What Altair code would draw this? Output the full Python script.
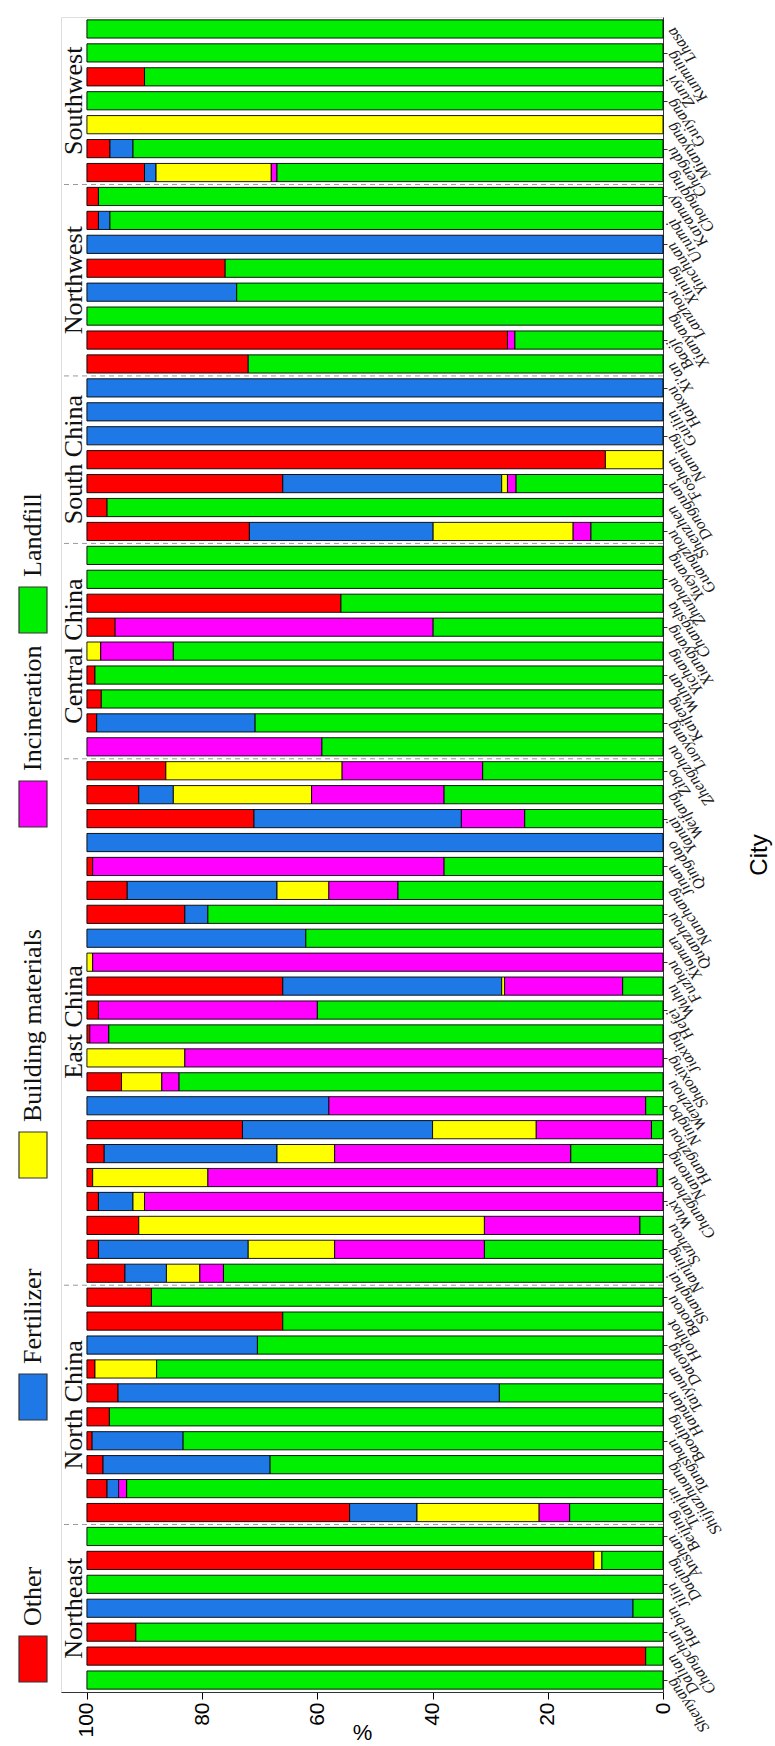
import altair as alt
import pandas as pd

categories = ["Other", "Fertilizer", "Building materials", "Incineration", "Landfill"]
colors = ["#FF0000", "#1E78E6", "#FFFF00", "#FF00FF", "#00EE00"]
stack_rank = [4, 3, 2, 1, 0]  # Landfill sits at 0 %, Other at 100 %

regions = ["Northeast", "North China", "East China", "Central China",
           "South China", "Northwest", "Southwest"]
region_sizes = [7, 10, 22, 9, 7, 8, 7]

# cities in original axis order (first = bottom row)
cities = [
    "Shenyang", "Dalian", "Changchun", "Harbin", "Jilin", "Daqing", "Anshan",
    "Beijing", "Tianjin", "Shijiazhuang", "Tangshan", "Baoding", "Handan",
    "Taiyuan", "Datong", "Hohhot", "Baotou",
    "Shanghai", "Nanjing", "Suzhou", "Wuxi", "Changzhou", "Nantong", "Hangzhou",
    "Ningbo", "Wenzhou", "Shaoxing", "Jiaxing", "Hefei", "Wuhu", "Fuzhou",
    "Xiamen", "Quanzhou", "Nanchang", "Jinan", "Qingdao", "Yantai", "Weifang", "Zibo",
    "Zhengzhou", "Luoyang", "Kaifeng", "Wuhan", "Yichang", "Xiangyang",
    "Changsha", "Zhuzhou", "Yueyang",
    "Guangzhou", "Shenzhen", "Dongguan", "Foshan", "Nanning", "Guilin", "Haikou",
    "Xi'an", "Baoji", "Xianyang", "Lanzhou", "Xining", "Yinchuan", "Urumqi", "Karamay",
    "Chongqing", "Chengdu", "Mianyang", "Guiyang", "Zunyi", "Kunming", "Lhasa",
]

other = [0, 97, 8.5, 0, 0, 88, 0,
         45.6, 3.5, 2.8, 0.9, 3.9, 5.4, 1.4, 0, 34.0, 11.2,
         6.6, 2, 9, 2, 1, 3, 27, 0, 6, 0, 0.5, 2, 34, 0, 0, 17, 7, 1, 0, 29, 9, 13.7,
         0, 1.7, 2.5, 1.4, 0, 4.9, 44.1, 0, 0,
         28.2, 3.5, 34, 90, 0, 0, 0,
         28, 73, 0, 0, 24, 0, 2, 2,
         10, 4, 0, 0, 10, 0, 0]
fertilizer = [0, 0, 0, 94.8, 0, 0, 0,
              11.7, 2.0, 29.0, 15.8, 0, 66.2, 0, 29.6, 0, 0,
              7.2, 26, 0, 6, 0, 30, 33, 42, 0, 0, 0, 0, 38, 0, 38, 4, 26, 0, 100, 36, 6, 0,
              0, 27.5, 0, 0, 0, 0, 0, 0, 0,
              31.9, 0, 38, 0, 100, 100, 100,
              0, 0, 0, 26, 0, 100, 2, 0,
              2, 4, 0, 0, 0, 0, 0]
building = [0, 0, 0, 0, 0, 1.4, 0,
            21.2, 0, 0, 0, 0, 0, 10.7, 0, 0, 0,
            5.8, 15, 60, 2, 20, 10, 18, 0, 7, 17, 0, 0, 0.5, 1, 0, 0, 9, 0, 0, 0, 24, 30.6,
            0, 0, 0, 0, 2.4, 0, 0, 0, 0,
            24.3, 0, 1, 10, 0, 0, 0,
            0, 0, 0, 0, 0, 0, 0, 0,
            20, 0, 100, 0, 0, 0, 0]
incineration = [0, 0, 0, 0, 0, 0, 0,
                5.3, 1.4, 0, 0, 0, 0, 0, 0, 0, 0,
                4.1, 26, 27, 90, 78, 41, 20, 55, 3, 83, 3.3, 38, 20.5, 99, 0, 0, 12, 61, 0, 11, 23, 24.4,
                40.8, 0, 0, 0, 12.6, 55.2, 0, 0, 0,
                3.1, 0, 1.5, 0, 0, 0, 0,
                0, 1.3, 0, 0, 0, 0, 0, 0,
                1, 0, 0, 0, 0, 0, 0]
landfill = [100, 3, 91.5, 5.2, 100, 10.6, 100,
            16.2, 93.1, 68.2, 83.3, 96.1, 28.4, 87.9, 70.4, 66.0, 88.8,
            76.3, 31, 4, 0, 1, 16, 2, 3, 84, 0, 96.2, 60, 7, 0, 62, 79, 46, 38, 0, 24, 38, 31.3,
            59.2, 70.8, 97.5, 98.6, 85.0, 39.9, 55.9, 100, 100,
            12.5, 96.5, 25.5, 0, 0, 0, 0,
            72, 25.7, 100, 74, 76, 0, 96, 98,
            67, 92, 0, 100, 90, 100, 100]

series = [other, fertilizer, building, incineration, landfill]

# ---- layout (pixels) ----
W, H = 602, 1675
XMAX = 104.5
legend_centers = [1642, 1380, 1138, 787, 593]

rows = []
for ci, (cat, vals) in enumerate(zip(categories, series)):
    for i, v in enumerate(vals):
        rows.append({"idx": i + 1, "city": cities[i], "category": cat,
                     "rank": stack_rank[ci], "value": v})
df = pd.DataFrame(rows)
city_df = pd.DataFrame({"idx": list(range(1, len(cities) + 1)), "city": cities})

xscale = alt.Scale(domain=[0, XMAX], reverse=True, nice=False, zero=True)
yscale = alt.Scale(domain=[0.5, len(cities) + 0.5], nice=False, zero=False)

bars = alt.Chart(df).transform_filter("datum.value > 0").transform_stack(
    stack="value", groupby=["idx"], as_=["x0", "x1"],
    sort=[alt.SortField("rank", order="ascending")], offset="zero"
).transform_calculate(lo="datum.idx - 0.38", hi="datum.idx + 0.38").mark_bar(
    stroke="#000000", strokeWidth=0.9
).encode(
    x=alt.X("x0:Q", scale=xscale, axis=alt.Axis(
        values=[0, 20, 40, 60, 80, 100], title="%", labelAngle=270,
        labelFont="Liberation Sans", labelFontSize=21, labelColor="#000",
        labelPadding=3, tickSize=7, tickColor="#000", domainColor="#333",
        titleFont="Liberation Sans", titleFontSize=22, titleFontWeight="normal",
        titleColor="#000", titleY=40, titleBaseline="middle", grid=False)),
    x2="x1:Q",
    y=alt.Y("lo:Q", scale=yscale, axis=alt.Axis(
        orient="right", values=list(range(1, len(cities) + 1)), labels=False,
        tickSize=4, tickColor="#333", domainColor="#333",
        title="City", titleAngle=270, titleX=96, titleY=H / 2,
        titleFont="Liberation Sans", titleFontSize=24, titleFontWeight="normal",
        titleColor="#000", titleAlign="center", titleBaseline="middle", grid=False)),
    y2="hi:Q",
    color=alt.Color("category:N", scale=alt.Scale(domain=categories, range=colors), legend=None),
)

city_text = alt.Chart(city_df).mark_text(
    angle=235, align="right", baseline="middle", font="Liberation Serif",
    fontStyle="italic", fontSize=16, color="#1a1a1a").encode(
    x=alt.value(W + 7), y=alt.Y("idx:Q", scale=yscale), text="city:N")

# region separators and labels
bounds, centers, s = [], [], 0
for name, n in zip(regions, region_sizes):
    centers.append({"region": name, "yc": s + (n + 1) / 2, "xc": 102.2})
    s += n
    if s < len(cities):
        bounds.append({"yb": s + 0.5, "xa": 0, "xb": XMAX})
bdf = pd.DataFrame(bounds)
cdf = pd.DataFrame(centers)

seps = alt.Chart(bdf).mark_rule(color="#9a9a9a", strokeDash=[5, 4], strokeWidth=1).encode(
    x=alt.X("xa:Q", scale=xscale), x2="xb:Q", y=alt.Y("yb:Q", scale=yscale))

reg_text = alt.Chart(cdf).mark_text(
    angle=270, font="Liberation Serif", fontSize=26, color="#111",
    align="center", baseline="middle").encode(
    x=alt.X("xc:Q", scale=xscale), y=alt.Y("yc:Q", scale=yscale), text="region:N")

# hand-drawn rotated legend at the left
one = pd.DataFrame({"k": [0]})
legend_layers = []
for cat, col, yc in zip(categories, colors, legend_centers):
    legend_layers.append(alt.Chart(one).mark_rect(
        fill=col, stroke="#333", strokeWidth=1.2).encode(
        x=alt.value(-42), x2=alt.value(-14), y=alt.value(yc - 23), y2=alt.value(yc + 23)))
    legend_layers.append(alt.Chart(one).mark_text(
        angle=270, font="Liberation Serif", fontSize=26, color="#111",
        align="left", baseline="middle").encode(
        x=alt.value(-28), y=alt.value(yc - 33), text=alt.value(cat)))

chart = alt.layer(seps, bars, city_text, reg_text, *legend_layers).properties(
    width=W, height=H,
    autosize=alt.AutoSizeParams(type="none"),
    padding={"left": 61, "top": 17, "right": 112, "bottom": 54},
).configure_view(stroke="#333", strokeWidth=1.5).configure(background="white")

chart.save("out.html", embed_options={"renderer": "svg", "actions": False})
